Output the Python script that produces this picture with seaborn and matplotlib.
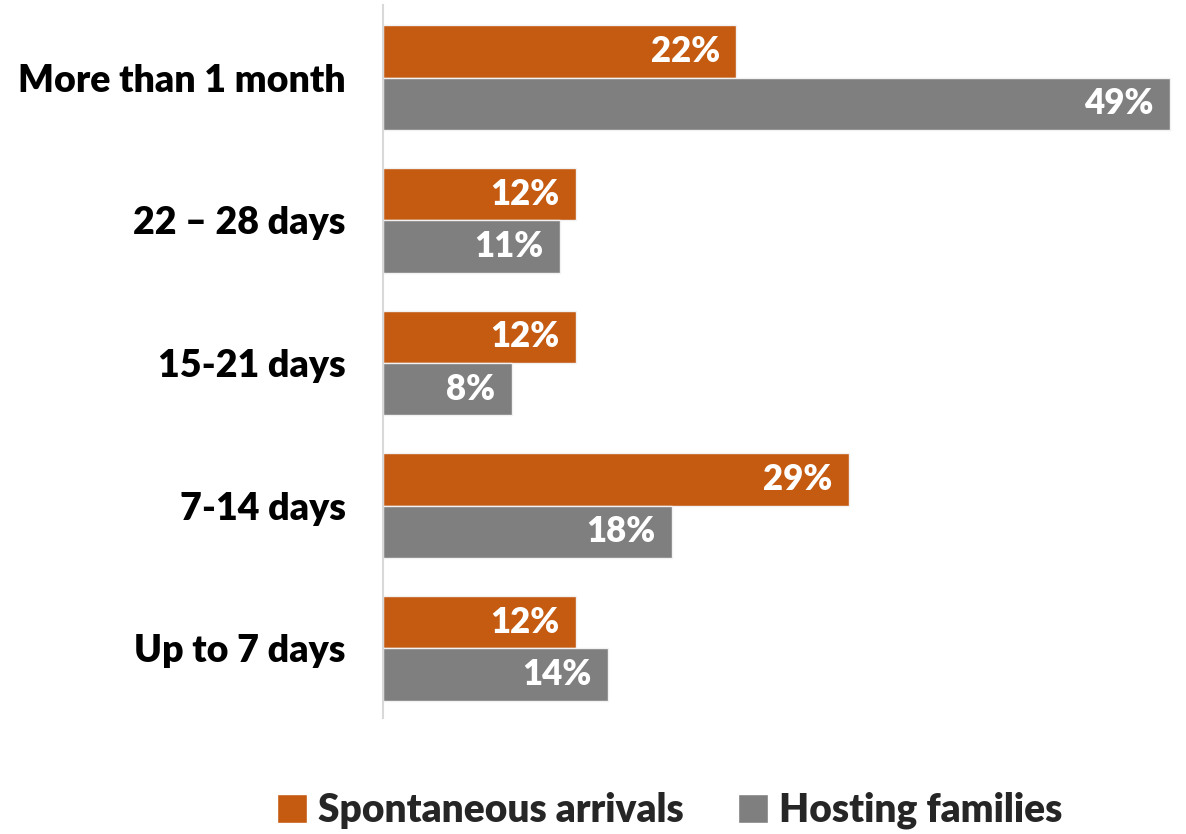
import pandas as pd
import matplotlib
matplotlib.use("Agg")
import matplotlib.pyplot as plt
import seaborn as sns
from matplotlib.patches import Patch

# Datos
categorias = ["More than 1 month", "22 \u2013 28 days", "15-21 days", "7-14 days", "Up to 7 days"]
espontaneas = [22, 12, 12, 29, 12]
familias = [49, 11, 8, 18, 14]
series = ["Spontaneous arrivals", "Hosting families"]
colores = ["#C55A11", "#7F7F7F"]

df = pd.DataFrame({
    "categoria": categorias * 2,
    "serie": [series[0]] * len(categorias) + [series[1]] * len(categorias),
    "valor": espontaneas + familias,
})

sns.set_style("white")
plt.rcParams["font.family"] = ["Lato", "DejaVu Sans"]

fig = plt.figure(figsize=(11.86, 8.34), dpi=100)
ax = fig.add_axes([0.323, 0.139, 0.665, 0.855])

sns.barplot(data=df, y="categoria", x="valor", hue="serie", order=categorias,
            hue_order=series, palette=colores, saturation=1, width=0.734, orient="h",
            edgecolor="#f2f2f2", linewidth=1, ax=ax, legend=False)

# Etiquetas dentro de las barras
for cont in ax.containers:
    etiquetas = ax.bar_label(cont, labels=[f"{v:.0f}%" for v in cont.datavalues],
                             padding=-12, color="white", fontsize=25,
                             fontweight="heavy", label_type="edge")
    for e in etiquetas:
        e.set_ha("right")

ax.set_xlim(0, 49.1)
ax.set_ylim(4.49, -0.51)
ax.set_xlabel("")
ax.set_ylabel("")
ax.set_xticks([])
ax.tick_params(axis="y", length=0, pad=27, labelsize=27, labelcolor="black")
for t in ax.get_yticklabels():
    t.set_fontweight("heavy")
for s in ["top", "right", "bottom"]:
    ax.spines[s].set_visible(False)
ax.spines["left"].set_color("#d9d9d9")
ax.spines["left"].set_linewidth(1.5)

handles = [Patch(facecolor=c, label=s) for c, s in zip(colores, series)]
fig.legend(handles=handles, loc="center", bbox_to_anchor=(0.565, 0.028), ncol=2,
           frameon=False, prop={"size": 28, "weight": "heavy"}, handlelength=0.75,
           handleheight=0.75, handletextpad=0.3, columnspacing=1.4)

fig.savefig("out.png", dpi=100)
